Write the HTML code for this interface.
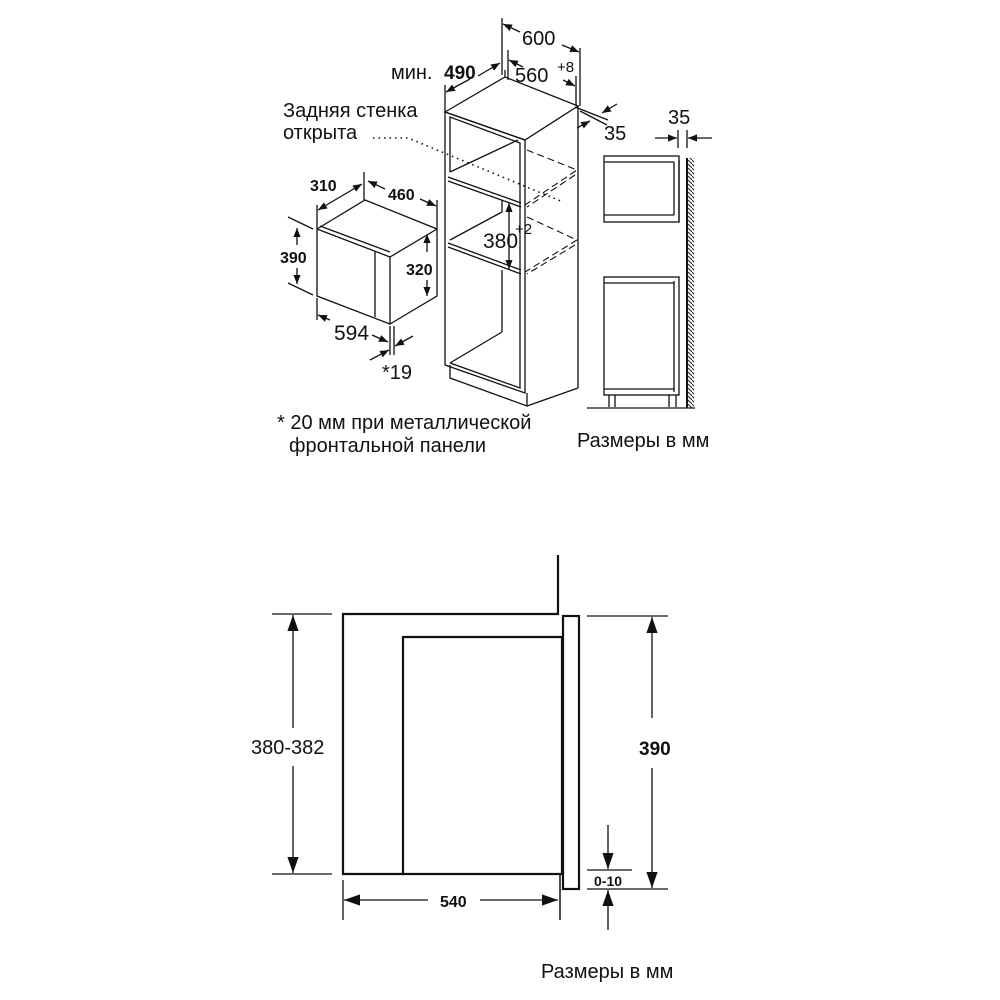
<!DOCTYPE html>
<html><head><meta charset="utf-8"><style>
html,body{margin:0;padding:0;background:#fff}
svg{display:block}
text{font-family:"Liberation Sans","DejaVu Sans",sans-serif;fill:#111}
.b{font-family:"Liberation Sans",sans-serif;font-weight:bold}
</style></head><body>
<svg width="1000" height="1000" viewBox="0 0 1000 1000" xmlns="http://www.w3.org/2000/svg">
<defs>
<marker id="a" viewBox="0 0 10 10" refX="10" refY="5" markerWidth="12" markerHeight="12" markerUnits="userSpaceOnUse" orient="auto-start-reverse"><path d="M0,0.5 L10,5 L0,9.5z" fill="#111"/></marker>
<marker id="B" viewBox="0 0 10 10" refX="10" refY="5" markerWidth="16" markerHeight="16" markerUnits="userSpaceOnUse" orient="auto-start-reverse"><path d="M0,1.5 L10,5 L0,8.5z" fill="#111"/></marker>
<marker id="A" viewBox="0 0 10 10" refX="10" refY="5" markerWidth="9" markerHeight="9" markerUnits="userSpaceOnUse" orient="auto-start-reverse"><path d="M0,1 L10,5 L0,9z" fill="#111"/></marker>
<pattern id="h" width="4" height="4" patternUnits="userSpaceOnUse"><path d="M0,0 L4,4" stroke="#222" stroke-width="1"/></pattern>
</defs>
<g stroke="#111" fill="none" stroke-width="1.3">
<polygon points="445,112 505,77 578,106 525,140"/>
<polygon points="445,112 525,140 525,393 445,365"/>
<line x1="578" y1="106" x2="578" y2="388"/>
<polyline points="450,365 450,378 527,406 527,393"/>
<line x1="527" y1="406" x2="578" y2="388"/>
<polyline points="450,172 450,117 520,143 520,388 450,363"/>
<line x1="448" y1="177" x2="521" y2="203"/><line x1="448" y1="181" x2="521" y2="207"/>
<line x1="448" y1="243" x2="521" y2="270"/><line x1="448" y1="247" x2="521" y2="274"/>
<line x1="450" y1="172" x2="518" y2="140"/>
<line x1="450" y1="240" x2="502" y2="212"/><line x1="502" y1="200" x2="502" y2="212"/>
<line x1="450" y1="363" x2="502" y2="332"/><line x1="502" y1="270" x2="502" y2="332"/>
<line x1="505" y1="77" x2="505" y2="70"/>
<g stroke-dasharray="7,4" stroke-width="1.1">
<polyline points="527,150 577,170 525,205"/><line x1="575" y1="175" x2="527" y2="207"/>
<polyline points="527,217 577,240 525,272"/><line x1="575" y1="245" x2="527" y2="274"/>
</g>
<polyline points="373,138 408,138 563,202" stroke-dasharray="1.5,4" stroke-width="1.6"/>
<line x1="509" y1="203" x2="509" y2="269" marker-start="url(#A)" marker-end="url(#A)"/>
<line x1="502" y1="18" x2="502" y2="75"/><line x1="580" y1="48" x2="580" y2="106"/>
<line x1="503" y1="24" x2="520" y2="32" marker-start="url(#A)"/><line x1="562" y1="45" x2="579" y2="52" marker-end="url(#A)"/>
<line x1="508" y1="50" x2="508" y2="80"/><line x1="576" y1="76" x2="576" y2="105"/>
<line x1="509" y1="60" x2="523" y2="67" marker-start="url(#A)"/><line x1="563" y1="80" x2="575" y2="86" marker-end="url(#A)"/>
<line x1="445" y1="85" x2="445" y2="112"/>
<line x1="446" y1="92" x2="470" y2="79" marker-start="url(#A)"/><line x1="478" y1="76" x2="500" y2="63" marker-end="url(#A)"/>
<line x1="575" y1="107" x2="608" y2="120"/><line x1="580" y1="111" x2="607" y2="125"/>
<line x1="617" y1="104" x2="602" y2="113" marker-end="url(#A)"/><line x1="577" y1="128" x2="590" y2="121" marker-end="url(#A)"/>
<polygon points="317,229 390,257 390,324 317,296"/>
<polyline points="317,229 365,200 437,229 437,296 390,324"/>
<line x1="390" y1="257" x2="437" y2="229"/>
<line x1="320" y1="226" x2="390" y2="252"/>
<line x1="375" y1="252" x2="375" y2="317"/>
<line x1="317" y1="205" x2="317" y2="229"/><line x1="364" y1="172" x2="364" y2="200"/>
<line x1="318" y1="210" x2="362" y2="184" marker-start="url(#A)" marker-end="url(#A)"/>
<line x1="368" y1="181" x2="385" y2="189" marker-start="url(#A)"/><line x1="420" y1="199" x2="436" y2="206" marker-end="url(#A)"/>
<line x1="437" y1="200" x2="437" y2="229"/>
<line x1="288" y1="217" x2="313" y2="229"/><line x1="288" y1="283" x2="313" y2="295"/>
<line x1="297" y1="228" x2="297" y2="245" marker-start="url(#A)"/><line x1="297" y1="268" x2="297" y2="284" marker-end="url(#A)"/>
<line x1="427" y1="234" x2="427" y2="252" marker-start="url(#A)"/><line x1="427" y1="280" x2="427" y2="296" marker-end="url(#A)"/>
<line x1="317" y1="298" x2="317" y2="320"/>
<line x1="318" y1="315" x2="330" y2="320" marker-start="url(#A)"/><line x1="372" y1="335" x2="388" y2="342" marker-end="url(#A)"/>
<line x1="390" y1="326" x2="390" y2="355"/><line x1="394" y1="326" x2="394" y2="355"/>
<line x1="370" y1="360" x2="389" y2="350" marker-end="url(#A)"/><line x1="413" y1="336" x2="395" y2="346" marker-end="url(#A)"/>
<rect x="604" y="156" width="75" height="66"/>
<line x1="604" y1="162" x2="674" y2="162"/><line x1="604" y1="215" x2="674" y2="215"/>
<polyline points="674,162 674,215"/><line x1="679" y1="160" x2="679" y2="222"/>
<rect x="604" y="277" width="75" height="118"/>
<line x1="604" y1="283" x2="674" y2="283"/><line x1="604" y1="389" x2="674" y2="389"/><line x1="674" y1="281" x2="674" y2="392"/>
<line x1="609" y1="395" x2="609" y2="407"/><line x1="615" y1="395" x2="615" y2="407"/>
<line x1="669" y1="395" x2="669" y2="407"/><line x1="676" y1="395" x2="676" y2="407"/>
<line x1="587" y1="408" x2="695" y2="408"/>
<line x1="687" y1="158" x2="687" y2="408" stroke-width="2"/>
<rect x="688" y="158" width="6" height="250" fill="url(#h)" stroke="none"/>
<line x1="678" y1="130" x2="678" y2="148"/><line x1="687" y1="130" x2="687" y2="148"/>
<line x1="655" y1="138" x2="677" y2="138" marker-end="url(#A)"/><line x1="712" y1="138" x2="688" y2="138" marker-end="url(#A)"/>
</g>
<g font-size="20">
<text x="391" y="79">мин.</text>
<text x="444" y="79" class="b" font-size="19">490</text>
<text x="522" y="45">600</text>
<text x="515" y="82">560</text><text x="557" y="72" font-size="15">+8</text>
<text x="604" y="140">35</text>
<text x="668" y="124">35</text>
<text x="283" y="117">Задняя стенка</text>
<text x="283" y="139">открыта</text>
<text x="483" y="248" font-size="21">380</text><text x="515" y="234" font-size="15">+2</text>
<text x="334" y="340" font-size="21">594</text>
<text x="382" y="379">*19</text>
<text x="277" y="429">* 20 мм при металлической</text>
<text x="289" y="452">фронтальной панели</text>
<text x="577" y="447">Размеры в мм</text>
<text x="541" y="978">Размеры в мм</text>
</g>
<g class="b" font-size="16">
<text x="310" y="191">310</text><text x="388" y="200">460</text>
<text x="280" y="263">390</text><text x="406" y="275">320</text>
</g>
<g stroke="#111" fill="none" stroke-width="2.2">
<polyline points="558,555 558,614 343,614 343,874 562,874"/>
<polyline points="562,637 403,637 403,874"/>
<line x1="562" y1="637" x2="562" y2="874"/>
<line x1="560" y1="874" x2="560" y2="920" stroke-width="1.5"/>
<rect x="563" y="616" width="16" height="273"/>
</g>
<g stroke="#111" fill="none" stroke-width="1.3">
<line x1="272" y1="614" x2="332" y2="614"/><line x1="272" y1="874" x2="332" y2="874"/>
<line x1="293" y1="615" x2="293" y2="728" marker-start="url(#B)"/><line x1="293" y1="766" x2="293" y2="873" marker-end="url(#B)"/>
<line x1="587" y1="616" x2="668" y2="616"/><line x1="587" y1="889" x2="668" y2="889"/>
<line x1="652" y1="617" x2="652" y2="718" marker-start="url(#B)"/><line x1="652" y1="768" x2="652" y2="888" marker-end="url(#B)"/>
<line x1="587" y1="870" x2="632" y2="870"/>
<line x1="608" y1="825" x2="608" y2="869" marker-end="url(#B)"/>
<line x1="608" y1="930" x2="608" y2="890" marker-end="url(#B)"/>
<line x1="344" y1="900" x2="428" y2="900" marker-start="url(#B)"/><line x1="480" y1="900" x2="558" y2="900" marker-end="url(#B)"/>
<line x1="343" y1="880" x2="343" y2="920"/>
</g>
<text x="251" y="754" font-size="20">380-382</text>
<text x="639" y="755" class="b" font-size="19">390</text>
<text x="594" y="886" class="b" font-size="14">0-10</text>
<text x="440" y="907" class="b" font-size="16">540</text>
</svg>
</body></html>
